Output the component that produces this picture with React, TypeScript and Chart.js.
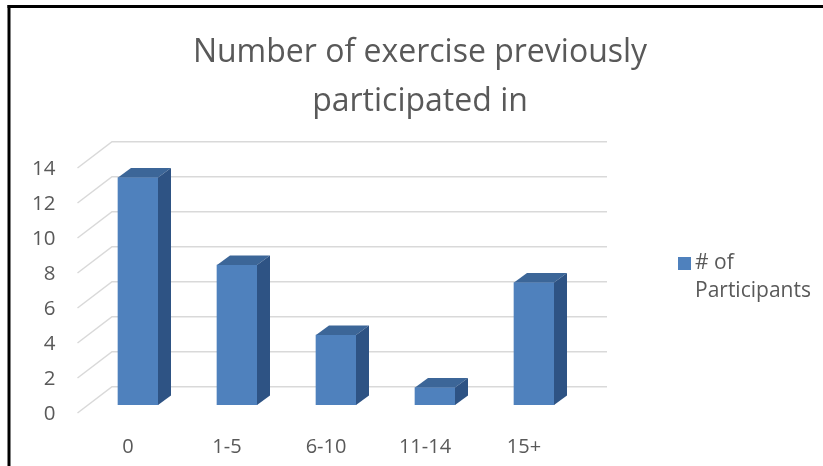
import React, { useEffect, useRef } from 'react';
import { Chart, registerables } from 'chart.js';

Chart.register(...registerables);

const categories = ['0', '1-5', '6-10', '11-14', '15+'];
const participants = [13, 8, 4, 1, 7];
const seriesLabel = '# of Participants';
const titleLines = ['Number of exercise previously', 'participated in'];
const yMin = 0;
const yMax = 14;
const yStep = 2;

const FONT = '"Open Sans", sans-serif';
const TEXT = '#595959';
const FRONT = '#4F81BD';
const TOP = '#3C6698';
const SIDE = '#2E5384';
const GRID = '#D9D9D9';

// 3D geometry offsets (relative to the bar front plane)
const BAR_DX = 13;
const BAR_DY = -9.5;
const BACK_DX = 23.5;
const BACK_DY = -18.3;
const FRONT_DX = -11;
const FRONT_DY = 8;

const threeD = {
  id: 'threeD',
  beforeDraw(chart: any) {
    const ctx = chart.ctx;
    ctx.save();
    ctx.fillStyle = '#ffffff';
    ctx.fillRect(0, 0, chart.width, chart.height);
    ctx.fillStyle = '#000000';
    ctx.fillRect(7.5, 5, chart.width, 3);
    ctx.fillRect(7.5, 5, 3, chart.height);
    // title
    ctx.fillStyle = TEXT;
    ctx.font = `32px ${FONT}`;
    ctx.textAlign = 'center';
    ctx.textBaseline = 'alphabetic';
    titleLines.forEach((ln, i) => ctx.fillText(ln, 420, 62 + i * 49));
    ctx.restore();
  },
  beforeDatasetsDraw(chart: any) {
    const ctx = chart.ctx;
    const y = chart.scales.y;
    const { left, right } = chart.chartArea;
    ctx.save();
    ctx.strokeStyle = GRID;
    ctx.lineWidth = 1.5;
    y.ticks.forEach((t: any) => {
      const py = y.getPixelForValue(t.value);
      ctx.beginPath();
      ctx.moveTo(left + FRONT_DX, py + FRONT_DY);
      ctx.lineTo(left + BACK_DX, py + BACK_DY);
      ctx.lineTo(right + BACK_DX, py + BACK_DY);
      ctx.stroke();
    });
    ctx.restore();
  },
  afterDatasetsDraw(chart: any) {
    const ctx = chart.ctx;
    const meta = chart.getDatasetMeta(0);
    ctx.save();
    meta.data.forEach((bar: any) => {
      const { x, y, base, width } = bar.getProps(['x', 'y', 'base', 'width'], true);
      const l = x - width / 2;
      const r = x + width / 2;
      ctx.fillStyle = TOP;
      ctx.beginPath();
      ctx.moveTo(l, y);
      ctx.lineTo(r, y);
      ctx.lineTo(r + BAR_DX, y + BAR_DY);
      ctx.lineTo(l + BAR_DX, y + BAR_DY);
      ctx.closePath();
      ctx.fill();
      ctx.fillStyle = SIDE;
      ctx.beginPath();
      ctx.moveTo(r, y);
      ctx.lineTo(r + BAR_DX, y + BAR_DY);
      ctx.lineTo(r + BAR_DX, base + BAR_DY);
      ctx.lineTo(r, base);
      ctx.closePath();
      ctx.fill();
    });
    // legend
    const ds = chart.data.datasets[0];
    ctx.fillStyle = ds.backgroundColor;
    ctx.fillRect(678, 257, 13, 13);
    ctx.fillStyle = TEXT;
    ctx.font = `21px ${FONT}`;
    ctx.textBaseline = 'middle';
    ctx.textAlign = 'left';
    const words = String(ds.label).split(' ');
    const lines: string[] = [];
    let cur = '';
    words.forEach((w) => {
      const test = cur ? cur + ' ' + w : w;
      if (cur && ctx.measureText(test).width > 120) {
        lines.push(cur);
        cur = w;
      } else {
        cur = test;
      }
    });
    if (cur) lines.push(cur);
    lines.forEach((ln, i) => ctx.fillText(ln, 695, 263 + i * 28));
    ctx.restore();
  },
};

export default function App() {
  const ref = useRef<HTMLCanvasElement | null>(null);
  useEffect(() => {
    if (!ref.current) return;
    const chart = new Chart(ref.current, {
      type: 'bar',
      data: {
        labels: categories,
        datasets: [
          {
            label: seriesLabel,
            data: participants,
            backgroundColor: FRONT,
            borderWidth: 0,
            barThickness: 40,
          },
        ],
      },
      options: {
        animation: false,
        responsive: false,
        maintainAspectRatio: false,
        events: [],
        layout: { padding: { left: 0, right: 239.5, top: 160, bottom: 0 } },
        plugins: {
          legend: { display: false },
          tooltip: { enabled: false },
          title: { display: false },
        },
        scales: {
          x: {
            grid: { display: false, drawTicks: false },
            border: { display: false },
            ticks: { color: TEXT, font: { family: FONT, size: 20 }, padding: 30, labelOffset: -10 },
            afterFit: (s: any) => { s.height = 61; },
          },
          y: {
            min: yMin,
            max: yMax,
            grid: { display: false, drawTicks: false },
            border: { display: false },
            ticks: { stepSize: yStep, color: TEXT, font: { family: FONT, size: 20.5 }, padding: 33, labelOffset: 9 },
            afterFit: (s: any) => { s.width = 88.5; },
          },
        },
      },
      plugins: [threeD],
    });
    return () => chart.destroy();
  }, []);
  return (
    <div style={{ position: 'fixed', left: 0, top: 0, width: 823, height: 466 }}>
      <canvas ref={ref} width={823} height={466} style={{ display: 'block' }} />
    </div>
  );
}
